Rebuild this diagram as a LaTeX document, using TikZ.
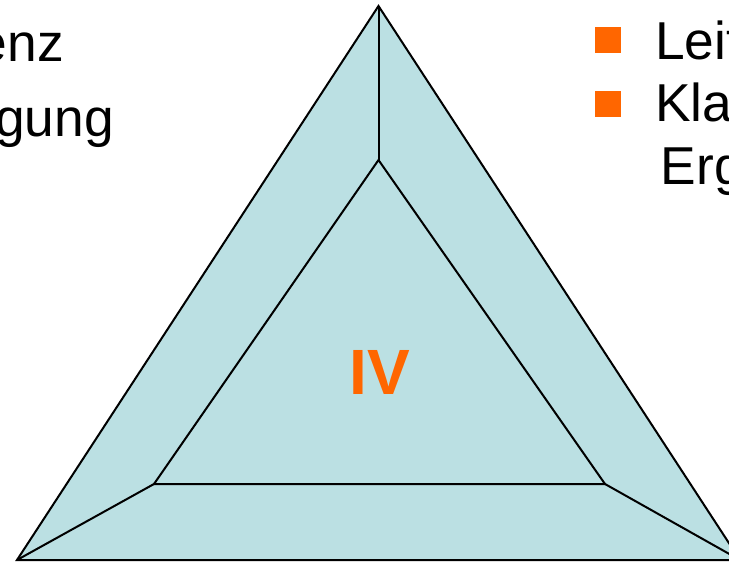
\documentclass[tikz,border=0pt]{standalone}
\usepackage{fontspec}
\setmainfont{Liberation Sans}
\definecolor{tri}{RGB}{187,224,227}
\definecolor{org}{RGB}{255,102,0}
\begin{document}
\begin{tikzpicture}[x=0.75pt,y=-0.75pt,
  txt/.style={inner sep=0pt,font=\fontsize{40}{48}\selectfont},
  bullet/.style={fill=org,draw=none,minimum size=20pt,inner sep=0pt},
  edge/.style={line width=1.5pt,line join=miter}]
\useasboundingbox (0,0) rectangle (729,563);
\clip (0,0) rectangle (729,563);
\coordinate (A) at (378.5,6);
\coordinate (L) at (17,560);
\coordinate (R) at (740,560);
\coordinate (a) at (378.5,160);
\coordinate (l) at (154,484);
\coordinate (r) at (605,484);
\fill[tri] (A) -- (L) -- (R) -- cycle;
\draw[edge] (A) -- (L) -- (R) -- cycle;
\draw[edge] (a) -- (l) -- (r) -- cycle;
\draw[edge] (A) -- (a);
\draw[edge] (L) -- (l);
\draw[edge] (R) -- (r);
\node[inner sep=0pt,text=org,font=\fontsize{48}{56}\selectfont\bfseries] (iv) at (380,372) {IV};
\node[txt,anchor=base east] (t1) at (64,62) {enz};
\node[txt,anchor=base east] (t2) at (114,137) {gung};
\node[bullet] (b1) at (608,40) {};
\node[bullet] (b2) at (608,104) {};
\node[txt,anchor=base west] (r1) at (655,60) {Leit};
\node[txt,anchor=base west] (r2) at (655,121.7) {Kla};
\node[txt,anchor=base west] (r3) at (660.7,185) {Erg};
\end{tikzpicture}
\end{document}
